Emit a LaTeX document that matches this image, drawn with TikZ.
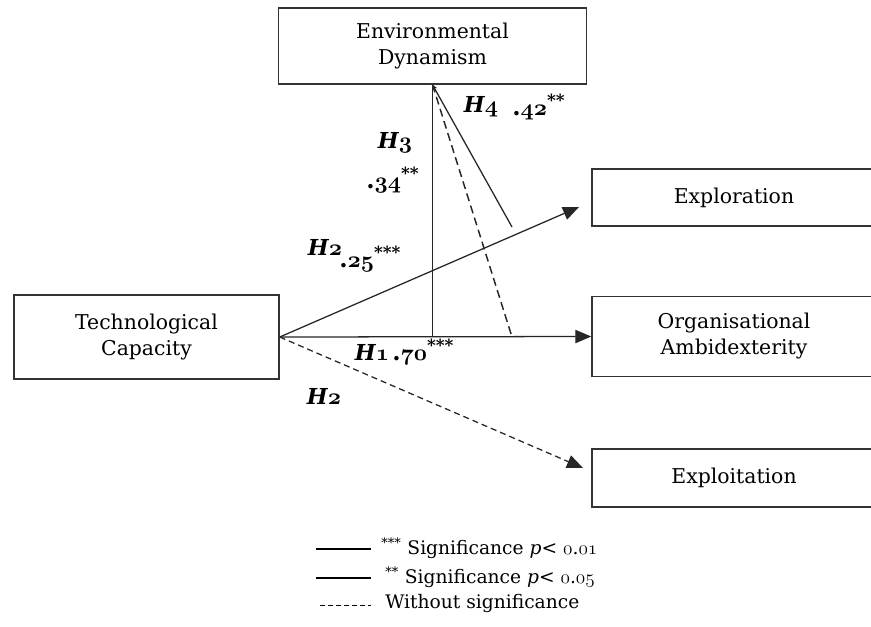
\documentclass[tikz,border=0pt]{standalone}
\usepackage{fontspec}
\setmainfont{DejaVu Serif}
\usetikzlibrary{arrows.meta}
\newcommand\osn[1]{{\usefont{OML}{cmm}{m}{it}#1}}
\newcommand\osb[1]{{\usefont{OML}{cmm}{b}{it}#1}}
\begin{document}
\begin{tikzpicture}[x=0.75pt,y=-0.75pt]
\tikzset{
 box/.style={draw=black!80, line width=1.1pt, align=center, inner sep=0pt, font=\fontsize{15.3}{19.5}\selectfont},
 conn/.style={line width=0.95pt, draw=black!85},
 dsh/.style={conn, dash pattern=on 4.5pt off 3pt},
 dshb/.style={conn, line width=1.1pt, dash pattern=on 6pt off 3.5pt},
 tipa/.style={-{Triangle[length=12pt,width=10pt]}},
 lab/.style={font=\fontsize{16.5}{20}\selectfont\bfseries\itshape, inner sep=0pt},
 num/.style={font=\fontsize{18}{20}\selectfont\bfseries, inner sep=0pt, anchor=west},
 leg/.style={font=\fontsize{14}{18}\selectfont, inner sep=0pt, anchor=west}
}
\useasboundingbox (0,0) rectangle (871,626);
% boxes
\node[box, minimum width=231pt, minimum height=57pt] (ED) at (432.5,46) {Environmental\\Dynamism};
\node[box, minimum width=198.75pt, minimum height=63pt] (TC) at (146.5,337) {Technological\\Capacity};
\node[box, minimum width=213pt, minimum height=42.75pt] (EXR) at (734,197.5) {Exploration};
\node[box, minimum width=213pt, minimum height=60pt] (OA) at (734,336.5) {Organisational\\Ambidexterity};
\node[box, minimum width=213pt, minimum height=43.5pt] (EXT) at (734,478) {Exploitation};
% connectors
\coordinate (exrtip) at (579,207);
\coordinate (exttip) at (583,468);
\coordinate (h4s) at (512,227);
\coordinate (h4d) at (512,337);
\draw[conn,tipa] (TC.east) -- (OA.west);
\draw[conn,tipa] (TC.east) -- (exrtip);
\draw[dsh,tipa] (TC.east) -- (exttip);
\draw[conn] (ED.south) -- (ED.south |- TC.east);
\draw[conn,{Stealth[length=4pt,width=3.5pt]}-] (ED.south) -- (h4s);
\draw[dshb] (ED.south) -- (h4d);
% labels
\node[lab] (lH4) at (481,107) {H\osb{4}};
\node[num] (n42) at (512,107) {.\osb{42}\textsuperscript{**}};
\node[lab] (lH3) at (395,143) {H\osb{3}};
\node[num] (n34) at (366,180) {.\osb{34}\textsuperscript{**}};
\node[lab] (lH2a) at (325,247) {H\osb{2}};
\node[num] (n25) at (339,259) {.\osb{25}\textsuperscript{***}};
\node[lab] (lH1) at (372,352) {H\osb{1}};
\node[num] (n70) at (392,352) {.\osb{70}\textsuperscript{***}};
\node[lab] (lH2b) at (324,396) {H\osb{2}};
% legend
\coordinate (l1a) at (316,549); \coordinate (l1b) at (371,549);
\coordinate (l2a) at (316,578); \coordinate (l2b) at (371,578);
\coordinate (l3a) at (320,605); \coordinate (l3b) at (371,605);
\draw[line width=0.9pt] (l1a) -- (l1b);
\draw[line width=0.9pt] (l2a) -- (l2b);
\draw[line width=0.7pt, dash pattern=on 3.5pt off 2.5pt] (l3a) -- (l3b);
\node[leg] (t1) at (381,548) {\textsuperscript{***} Significance \textit{p}< \osn{0}.\osn{01}};
\node[leg] (t2) at (385,577) {\textsuperscript{**} Significance \textit{p}< \osn{0}.\osn{05}};
\node[leg] (t3) at (385,603) {Without significance};
\end{tikzpicture}
\end{document}
